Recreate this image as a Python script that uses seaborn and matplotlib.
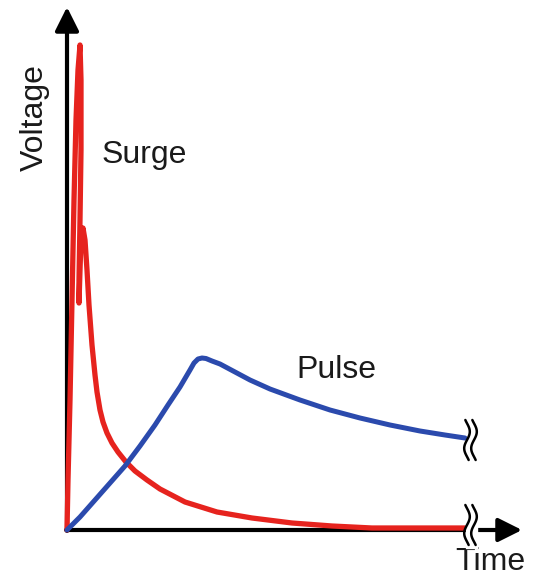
import numpy as np
import pandas as pd
import matplotlib
matplotlib.use('Agg')
import matplotlib.pyplot as plt
import seaborn as sns

# Surge waveform (time, voltage), arbitrary units
surge_t = [0, 1, 3, 5, 7, 9, 11, 13, 14, 14, 13, 12, 12, 13, 14, 16, 18, 20, 22, 25, 28,
           30, 33, 36, 40, 45, 51, 59, 68, 80, 93, 118, 150, 185, 225, 265, 305, 353, 398]
surge_v = [0, 50, 130, 230, 330, 410, 460, 485, 450, 380, 310, 250, 227, 260, 290, 302, 290,
           260, 225, 185, 155, 138, 120, 108, 97, 87, 78, 68, 59, 50, 41, 28, 18, 12, 7, 4, 2,
           2, 2]

# Pulse waveform
pulse_t = [0, 13, 28, 43, 58, 73, 88, 101, 113, 123, 127, 131, 135, 139, 145, 153, 168, 183,
           203, 233, 263, 293, 323, 353, 378, 398]
pulse_v = [0, 13, 30, 47, 64, 84, 105, 125, 143, 160, 167, 171, 172, 171.5, 169, 166, 158,
           150, 141, 130, 120, 112, 105, 99, 95, 92]

surge = pd.DataFrame({'t': surge_t, 'v': surge_v})
pulse = pd.DataFrame({'t': pulse_t, 'v': pulse_v})

sns.set_theme(style='white')
plt.rcParams['font.family'] = ['Liberation Sans', 'DejaVu Sans']

fig = plt.figure(figsize=(5.43, 5.80), dpi=100)
ax = fig.add_axes([0, 0, 1, 1])
ax.set_xlim(-67, 476)
ax.set_ylim(-50, 530)
ax.axis('off')

red = '#e6231e'
blue = '#2b4aad'

# axes with arrow heads
arrow = dict(arrowstyle='-|>,head_length=0.9,head_width=0.45', lw=3, color='black',
             mutation_scale=16, shrinkA=0, shrinkB=0)
ax.annotate('', xy=(0, 523), xytext=(0, -1), arrowprops=arrow, zorder=1)
ax.annotate('', xy=(455, 0), xytext=(-1, 0), arrowprops=arrow, zorder=1)

sns.lineplot(data=surge, x='t', y='v', sort=False, estimator=None, color=red,
             lw=3.8, ax=ax, zorder=3)
sns.lineplot(data=pulse, x='t', y='v', sort=False, estimator=None, color=blue,
             lw=3.6, ax=ax, zorder=3)


# break marks (double squiggle) at the end of each curve
def squiggle(x0, y0, h=20):
    s = np.linspace(-1, 1, 40)
    for dx in (0, 7):
        ax.plot(x0 + dx + 2.8 * np.sin(1.2 * np.pi * s), y0 + h * s, color='black', lw=1.8,
                solid_capstyle='round', zorder=4)


ax.fill_between([399, 410], -18, 28, color='white', zorder=3.5)
squiggle(400, 90)
squiggle(400, 5)

ax.text(-32, 412, 'Voltage', rotation=90, ha='center', va='center', fontsize=23, color='#1a1a1a')
ax.text(77, 375, 'Surge', ha='center', va='center', fontsize=23, color='#1a1a1a')
ax.text(269, 160, 'Pulse', ha='center', va='center', fontsize=23, color='#1a1a1a')
ax.text(423, -32, 'Time', ha='center', va='center', fontsize=23, color='#1a1a1a')

fig.savefig('out.png', dpi=100, facecolor='white')
